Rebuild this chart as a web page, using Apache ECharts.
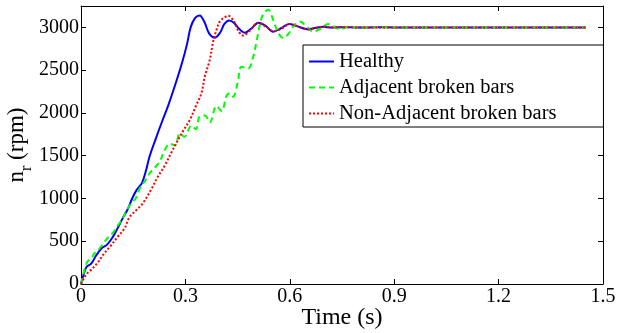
<!DOCTYPE html>
<html>
<head>
<meta charset="utf-8">
<script src="https://cdn.jsdelivr.net/npm/echarts@6/dist/echarts.min.js"></script>
<style>
html,body{margin:0;padding:0;background:#fff;}
#chart{width:619px;height:333px;}
</style>
</head>
<body>
<div id="chart"></div>
<script>
// ---- data ----
var seriesNames = ['Healthy', 'Adjacent broken bars', 'Non-Adjacent broken bars'];
var xTickLabels = ['0', '0.3', '0.6', '0.9', '1.2', '1.5'];
var yTickLabels = ['0', '500', '1000', '1500', '2000', '2500', '3000'];

var healthyT = [0,0.008,0.016,0.03,0.043,0.06,0.075,0.09,0.105,0.12,0.135,0.147,0.16,0.175,0.187,0.197,0.215,0.233,0.25,0.27,0.29,0.305,0.315,0.328,0.341,0.355,0.368,0.385,0.4,0.412,0.426,0.44,0.455,0.471,0.49,0.51,0.53,0.552,0.575,0.598,0.62,0.653,0.675,0.696,0.72,0.75,0.8,0.85,0.9,1.0,1.2,1.45];
var healthyV = [0,120,200,240,330,420,460,540,650,770,880,1000,1100,1180,1330,1490,1700,1900,2080,2320,2580,2810,3000,3110,3140,3060,2930,2880,2940,3040,3080,3050,2980,2937,2990,3054,3020,2950,2990,3040,3015,2977,2995,3007,2998,3003,2998,3001,3000,3000,3000,3000];

var adjacentT = [0,0.006,0.012,0.02,0.03,0.039,0.05,0.063,0.075,0.092,0.105,0.116,0.13,0.145,0.157,0.169,0.183,0.198,0.212,0.226,0.24,0.255,0.27,0.284,0.297,0.317,0.33,0.341,0.356,0.37,0.389,0.404,0.418,0.428,0.437,0.45,0.461,0.48,0.495,0.505,0.514,0.523,0.538,0.552,0.565,0.581,0.595,0.612,0.629,0.648,0.667,0.69,0.71,0.727,0.744,0.77,0.8,0.85,0.9,1.0,1.2,1.45];
var adjacentV = [0,100,200,270,300,360,400,470,530,600,680,740,850,950,1000,1120,1200,1300,1360,1430,1560,1640,1620,1760,1720,1850,1810,1960,1970,1890,2080,2020,2200,2230,2190,2350,2540,2520,2660,2850,3030,3150,3205,3090,2950,2875,2920,3020,3070,3010,2950,2990,3040,3010,2978,3010,2995,3003,3000,3000,3000,3000];

var nonAdjacentT = [0,0.01,0.019,0.03,0.048,0.065,0.086,0.105,0.125,0.139,0.158,0.177,0.201,0.22,0.24,0.26,0.274,0.295,0.313,0.33,0.346,0.356,0.37,0.38,0.39,0.399,0.41,0.423,0.438,0.452,0.466,0.485,0.509,0.53,0.555,0.578,0.6,0.625,0.653,0.675,0.696,0.72,0.75,0.8,0.9,1.0,1.2,1.45];
var nonAdjacentV = [0,80,130,170,250,350,450,550,650,780,860,940,1100,1250,1380,1540,1650,1800,1920,2080,2230,2430,2620,2840,2980,3070,3110,3135,3080,2960,2905,2960,3055,3010,2955,2990,3040,3010,2975,2995,3010,2998,3003,2998,3000,3000,3000,3000];

function pairs(t, v) { var out = []; for (var i = 0; i < t.length; i++) out.push([t[i], v[i]]); return out; }

var FONT = 'Liberation Serif';
var chart = echarts.init(document.getElementById('chart'), null, {renderer: 'canvas'});

var axisCommon = {
  axisLine: {show: true, onZero: false, lineStyle: {color: '#000', width: 1}},
  axisTick: {show: true, inside: true, length: 5, lineStyle: {color: '#000', width: 1}},
  splitLine: {show: false}
};

chart.setOption({
  animation: false,
  backgroundColor: '#fff',
  grid: {left: 81, right: 16, top: 6, bottom: 49, containLabel: false, outerBoundsMode: 'none'},
  xAxis: [
    Object.assign({}, axisCommon, {
      type: 'value', min: 0, max: 1.5, interval: 0.3, position: 'bottom',
      name: 'Time (s)', nameLocation: 'middle', nameGap: 22, nameMoveOverlap: false,
      nameTextStyle: {fontFamily: FONT, fontSize: 24, color: '#000'},
      axisLabel: {fontFamily: FONT, fontSize: 20, color: '#000', margin: 3,
        formatter: function (v) { return xTickLabels[Math.round(v / 0.3)]; }}
    }),
    Object.assign({}, axisCommon, {
      type: 'value', min: 0, max: 1.5, interval: 0.3, position: 'top',
      axisLabel: {show: false}
    })
  ],
  yAxis: [
    Object.assign({}, axisCommon, {
      type: 'value', min: 0, max: 3250, interval: 500, position: 'left',
      name: '{n|n}{s|r}{n| (rpm)}', nameLocation: 'middle', nameGap: 46, nameRotate: 90,
      nameMoveOverlap: false,
      nameTextStyle: {fontFamily: FONT, fontSize: 23, color: '#000',
        rich: {
          n: {fontFamily: FONT, fontSize: 23, color: '#000'},
          s: {fontFamily: FONT, fontSize: 16, color: '#000', padding: [20, 0, 0, 0]}
        }},
      axisLabel: {fontFamily: FONT, fontSize: 20, color: '#000', margin: 2, showMaxLabel: false,
        formatter: function (v) { var i = Math.round(v / 500); return (v % 500 === 0 && i < yTickLabels.length) ? yTickLabels[i] : ''; }}
    }),
    Object.assign({}, axisCommon, {
      type: 'value', min: 0, max: 3250, interval: 500, position: 'right',
      axisLabel: {show: false}
    })
  ],
  legend: {
    show: true, orient: 'vertical', left: 303, top: 45,
    padding: [6, 47, 3, 5], itemGap: 5, itemWidth: 25, itemHeight: 14,
    backgroundColor: '#fff', borderColor: '#000', borderWidth: 1, borderRadius: 0,
    itemStyle: {opacity: 0},
    textStyle: {fontFamily: FONT, fontSize: 20.5, color: '#000', lineHeight: 20},
    data: seriesNames
  },
  series: [
    {name: seriesNames[0], type: 'line', data: pairs(healthyT, healthyV), showSymbol: false, symbol: 'none',
     smooth: 0.35, color: '#0000ff', lineStyle: {color: '#0000ff', width: 2, type: 'solid'}},
    {name: seriesNames[1], type: 'line', data: pairs(adjacentT, adjacentV), showSymbol: false, symbol: 'none',
     smooth: 0.35, color: '#00ff00', lineStyle: {color: '#00ff00', width: 2, type: [6, 4]}},
    {name: seriesNames[2], type: 'line', data: pairs(nonAdjacentT, nonAdjacentV), showSymbol: false, symbol: 'none',
     smooth: 0.35, color: '#ff0000', lineStyle: {color: '#ff0000', width: 2, type: [2, 2]}}
  ]
});
</script>
</body>
</html>
